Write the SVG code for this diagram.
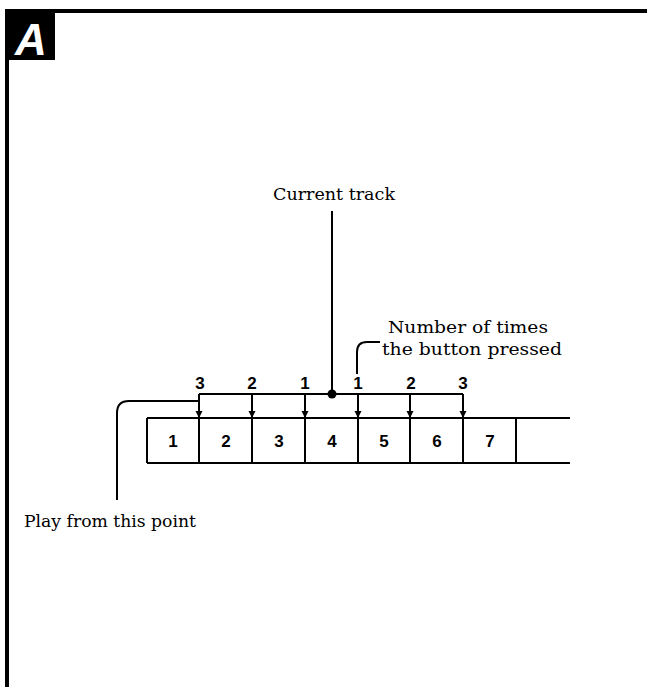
<svg xmlns="http://www.w3.org/2000/svg" width="647" height="687" viewBox="0 0 647 687">
<style>
.frame{fill:#000}
.ln{stroke:#000;stroke-width:2;fill:none}
.num{font-family:"Liberation Sans",Arial,sans-serif;font-weight:bold;font-size:17px;text-anchor:middle;fill:#000}
.lbl{font-family:"DejaVu Serif","Liberation Serif",serif;font-size:16px;fill:#000}
</style>
<defs>
<marker id="arr" viewBox="0 0 10 10" refX="10" refY="5" markerWidth="7" markerHeight="8" markerUnits="userSpaceOnUse" orient="auto">
<path d="M0,0 L10,5 L0,10 Z" fill="#000"/>
</marker>
</defs>
<rect width="647" height="687" fill="#fff"/>
<g id="frame">
<rect class="frame" x="5" y="9" width="642" height="4"/>
<rect class="frame" x="5" y="9" width="4" height="678"/>
<rect class="frame" x="5" y="9" width="50" height="51"/>
<text x="31" y="55" font-family="Liberation Sans,Arial,sans-serif" font-weight="bold" font-style="italic" font-size="44" fill="#fff" text-anchor="middle">A</text>
</g>
<g id="tracks">
<path class="ln" d="M147,418 H570 M147,463 H570 M147,418 V463 M199,418 V463 M252,418 V463 M305,418 V463 M358,418 V463 M410,418 V463 M463,418 V463 M516,418 V463"/>
<text class="num" x="173" y="447">1</text>
<text class="num" x="226" y="447">2</text>
<text class="num" x="279" y="447">3</text>
<text class="num" x="332" y="447">4</text>
<text class="num" x="384" y="447">5</text>
<text class="num" x="437" y="447">6</text>
<text class="num" x="490" y="447">7</text>
</g>
<g id="connectors">
<path class="ln" d="M199,394 H463"/>
<path class="ln" d="M199,394 V418" marker-end="url(#arr)"/>
<path class="ln" d="M252,394 V418" marker-end="url(#arr)"/>
<path class="ln" d="M305,394 V418" marker-end="url(#arr)"/>
<path class="ln" d="M358,394 V418" marker-end="url(#arr)"/>
<path class="ln" d="M410,394 V418" marker-end="url(#arr)"/>
<path class="ln" d="M463,394 V418" marker-end="url(#arr)"/>
<circle cx="332" cy="394" r="4.5" fill="#000"/>
<path class="ln" d="M332,211 V394"/>
<path class="ln" d="M357,374 V352 Q357,342 367,342 H380"/>
<path class="ln" d="M199,401 H129 Q117,401 117,413 V500"/>
</g>
<g id="press-counts">
<text class="num" x="200" y="389">3</text>
<text class="num" x="252" y="389">2</text>
<text class="num" x="305" y="389">1</text>
<text class="num" x="358" y="389">1</text>
<text class="num" x="411" y="389">2</text>
<text class="num" x="463" y="389">3</text>
</g>
<g id="labels">
<text class="lbl" x="334" y="200" text-anchor="middle" textLength="122" lengthAdjust="spacingAndGlyphs">Current track</text>
<text class="lbl" x="388" y="333" textLength="160" lengthAdjust="spacingAndGlyphs">Number of times</text>
<text class="lbl" x="382" y="355" textLength="180" lengthAdjust="spacingAndGlyphs">the button pressed</text>
<text class="lbl" x="24" y="527" textLength="172" lengthAdjust="spacingAndGlyphs">Play from this point</text>
</g>
</svg>
